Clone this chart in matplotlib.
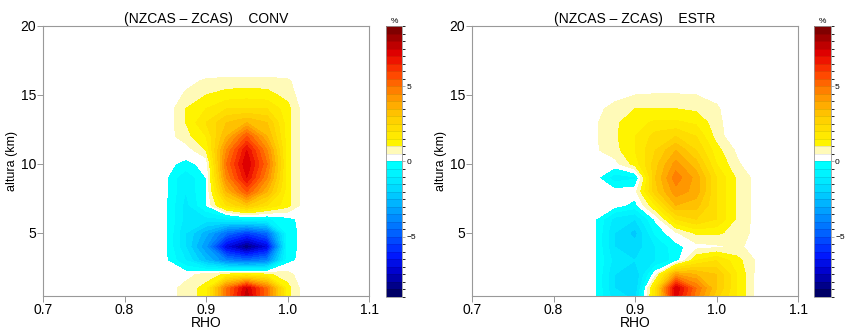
import matplotlib
matplotlib.use("Agg")
import matplotlib.pyplot as plt
import numpy as np
from matplotlib.colors import BoundaryNorm, LinearSegmentedColormap, ListedColormap

# grid: RHO columns, altura (km) rows
rho_conv = [0.825, 0.85, 0.875, 0.90, 0.925, 0.95, 0.975, 1.00, 1.025, 1.05]
rho_estr = [0.825, 0.85, 0.875, 0.90, 0.925, 0.95, 0.975, 1.00, 1.025, 1.05, 1.075]
altura = [0, 1, 2, 3, 4, 5, 6, 7, 8, 9, 10, 11, 12, 13, 14, 15, 16, 17]

conv = [
    [0, 0.2, 0.7, 1.2, 5.0, 8.0, 5.0, 1.2, 0, 0],
    [0, 0.2, 0.7, 1.2, 5.0, 7.5, 5.0, 1.2, 0, 0],
    [0, 0.0, 0.3, 0.7, 1.1, 1.3, 1.1, 0.7, 0, 0],
    [0, 0.1, -1.0, -2.5, -4.0, -4.5, -4.0, -0.2, 0.3, 0],
    [0, 0.1, -1.5, -3.5, -7.0, -8.5, -7.0, -0.3, 0.3, 0],
    [0, 0.1, -1.5, -2.8, -4.5, -5.5, -4.5, -0.3, 0.3, 0],
    [0, 0.1, -1.2, -1.2, -1.0, -0.6, -0.6, -0.2, 0.3, 0],
    [0, 0.1, -1.2, 0.0, 2.0, 3.0, 2.0, 1.2, 0, 0],
    [0, 0.1, -1.0, 0.0, 3.5, 5.5, 3.5, 1.2, 0, 0],
    [0, 0.1, -1.0, 0.0, 4.5, 7.0, 4.5, 1.2, 0, 0],
    [0, 0.1, -0.1, 0.1, 5.0, 7.5, 5.0, 1.2, 0, 0],
    [0, 0.1, 0.2, 1.0, 4.5, 7.0, 4.5, 1.2, 0, 0],
    [0, 0.2, 0.8, 1.5, 3.5, 5.5, 3.5, 1.2, 0, 0],
    [0, 0.1, 1.0, 2.0, 3.0, 3.5, 3.0, 1.2, 0, 0],
    [0, 0.1, 1.0, 1.5, 2.0, 2.0, 2.0, 1.2, 0, 0],
    [0, 0.0, 0.6, 1.0, 1.2, 1.3, 1.2, 0.8, 0, 0],
    [0, 0.0, 0.3, 0.6, 0.7, 0.7, 0.7, 0.6, 0, 0],
    [0, 0, 0, 0, 0, 0, 0, 0, 0, 0],
]

estr = [
    [0, 0.1, -1.2, -1.5, 2.0, 7.0, 4.5, 2.5, 1.5, 0.3, 0],
    [0, 0.1, -1.5, -2.0, 2.0, 7.5, 5.0, 3.0, 1.5, 0.3, 0],
    [0, 0.1, -1.5, -2.0, 0.3, 4.0, 3.5, 3.0, 1.5, 0.3, 0],
    [0, 0.1, -1.2, -1.5, -1.0, -0.3, 1.5, 2.0, 1.2, 0.4, 0],
    [0, 0.1, -1.5, -1.8, -1.0, -0.2, 0.3, 0.4, 0.6, 0.3, 0],
    [0, 0.1, -1.5, -2.2, -0.4, 0.4, 1.1, 1.1, 0.8, 0.3, 0],
    [0, 0.1, -1.2, -1.5, 0.1, 2.0, 2.5, 2.0, 0.9, 0.3, 0],
    [0, 0.1, 0.2, -0.2, 1.5, 3.5, 3.2, 2.0, 0.9, 0.3, 0],
    [0, 0.1, 0.2, 0.3, 2.8, 4.3, 3.8, 2.0, 0.9, 0.3, 0],
    [0, 0.2, -0.8, -0.6, 3.0, 4.8, 3.8, 2.0, 0.9, 0.3, 0],
    [0, 0.2, 0.3, 1.2, 2.8, 4.2, 3.2, 1.5, 0.6, 0.0, 0],
    [0, 0.4, 0.8, 1.5, 2.5, 3.5, 2.5, 1.2, 0.4, 0.0, 0],
    [0, 0.4, 0.9, 1.5, 2.2, 2.5, 2.0, 0.8, 0, 0, 0],
    [0, 0.4, 0.9, 1.3, 1.6, 1.6, 1.4, 0.7, 0, 0, 0],
    [0, 0.3, 0.7, 1.0, 1.0, 1.0, 0.9, 0.6, 0, 0, 0],
    [0, 0.0, 0.3, 0.5, 0.55, 0.55, 0.5, 0.3, 0, 0, 0],
    [0, 0, 0, 0, 0, 0, 0, 0, 0, 0, 0],
    [0, 0, 0, 0, 0, 0, 0, 0, 0, 0, 0],
]

titles = ["(NZCAS \u2013 ZCAS)    CONV", "(NZCAS \u2013 ZCAS)    ESTR"]
cbar_ticks = [-5, 0, 5]

# contour bands of 0.5 %, white band sits on [0, 0.5)
levels = np.arange(-9, 9.01, 0.5)
levels[np.isclose(levels, 0)] = -1e-9
neg = LinearSegmentedColormap.from_list("neg", [
    (0.0, (0.0, 0.0, 0.40)), (0.17, (0.0, 0.0, 0.80)), (0.30, (0.0, 0.10, 1.0)),
    (0.47, (0.0, 0.38, 1.0)), (0.67, (0.0, 0.66, 1.0)), (0.84, (0.0, 0.88, 1.0)),
    (1.0, (0.0, 1.0, 1.0))])
pos = LinearSegmentedColormap.from_list("pos", [
    (0.0, (1.0, 0.98, 0.72)), (0.06, (1.0, 0.96, 0.0)), (0.28, (1.0, 0.80, 0.0)),
    (0.47, (1.0, 0.55, 0.0)), (0.65, (1.0, 0.25, 0.0)), (0.80, (0.90, 0.0, 0.0)),
    (1.0, (0.50, 0.0, 0.0))])
colors = [neg(t) for t in np.linspace(0, 1, 18)] + [(1, 1, 1, 1)] + [pos(t) for t in np.linspace(0, 1, 17)]
cmap = ListedColormap(colors)
norm = BoundaryNorm(levels, cmap.N)

plt.rcParams["font.family"] = ["Liberation Sans", "DejaVu Sans"]
fig = plt.figure(figsize=(8.47, 3.29), dpi=100)

ax_pos = [[0.0508, 0.1003, 0.3849, 0.8207], [0.5573, 0.1003, 0.3849, 0.8207]]
cax_pos = [[0.4557, 0.0973, 0.0189, 0.8237], [0.9610, 0.0973, 0.0200, 0.8237]]

for i, (rho, data) in enumerate([(rho_conv, conv), (rho_estr, estr)]):
    ax = fig.add_axes(ax_pos[i])
    cf = ax.contourf(rho, altura, np.array(data), levels=levels, cmap=cmap, norm=norm)
    ax.set_xlim(0.7, 1.1)
    ax.set_ylim(0.43, 20)
    ax.set_xticks([0.7, 0.8, 0.9, 1.0, 1.1])
    ax.set_xticklabels(["0.7", "0.8", "0.9", "1.0", "1.1"])
    ax.set_yticks([5, 10, 15, 20])
    ax.tick_params(direction="out", length=4, width=0.6, color="#888888", labelsize=10, pad=1)
    for s in ax.spines.values():
        s.set_color("#999999")
        s.set_linewidth(0.8)
    ax.set_xlabel("RHO", fontsize=10, labelpad=-1)
    ax.set_ylabel("altura (km)", fontsize=9, labelpad=2)
    ax.set_title(titles[i], fontsize=10, pad=1)

    cax = fig.add_axes(cax_pos[i])
    cb = fig.colorbar(cf, cax=cax, ticks=cbar_ticks, drawedges=True)
    cb.dividers.set_color((0, 0, 0, 0.12))
    cb.dividers.set_linewidth(0.5)
    cb.outline.set_edgecolor("#999999")
    cb.outline.set_linewidth(0.6)
    cax.tick_params(length=2, width=0.5, color="#888888", labelsize=6, pad=1)
    cax.set_title("%", fontsize=6, pad=2)

fig.savefig("out.png", dpi=100)
